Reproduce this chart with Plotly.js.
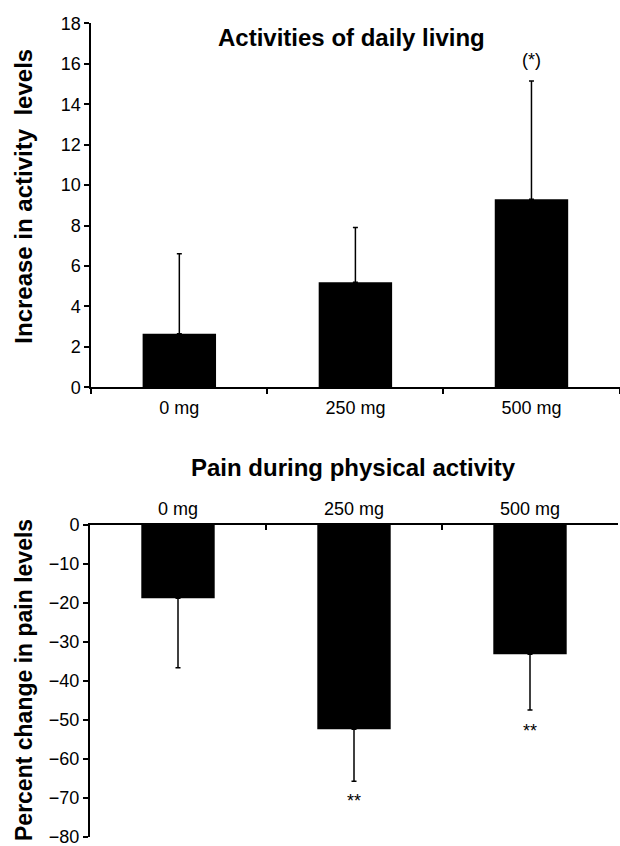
<!DOCTYPE html>
<html>
<head>
<meta charset="utf-8">
<script src="https://cdn.plot.ly/plotly-3.0.1.min.js"></script>
<style>html,body{margin:0;padding:0;background:#fff;}#chart{width:620px;height:846px;}</style>
</head>
<body>
<div id="chart"></div>
<script>
// ---- data ----
const categories = ["0 mg", "250 mg", "500 mg"];
const adlValues = [2.65, 5.2, 9.3];
const adlErrUp = [3.95, 2.7, 5.85];
const painValues = [-18.9, -52.4, -33.2];
const painErrDown = [17.8, 13.3, 14.3];
const adlMarks = ["", "", "(*)"];
const adlMarkY = [null, null, 16.2];
const painMarks = ["", "**", "**"];
const painMarkY = [null, -70.7, -52.8];

const FONT = "Liberation Sans, Arial, sans-serif";
const W = 620, H = 846;
const px = v => v / W;
const py = v => (H - v) / H;

const traces = [
  {
    type: "bar", x: categories, y: adlValues, xaxis: "x", yaxis: "y",
    width: 0.417, marker: {color: "#000"},
    error_y: {type: "data", symmetric: false, array: adlErrUp, arrayminus: [0,0,0],
              color: "#000", thickness: 1.5, width: 2.5},
    hoverinfo: "none", showlegend: false
  },
  {
    type: "bar", x: categories, y: painValues, xaxis: "x2", yaxis: "y2",
    width: 0.417, marker: {color: "#000"},
    error_y: {type: "data", symmetric: false, array: [0,0,0], arrayminus: painErrDown,
              color: "#000", thickness: 1.5, width: 2.5},
    hoverinfo: "none", showlegend: false
  }
];

const annotations = [];
annotations.push({text: "<b>Activities of daily living</b>", xref: "paper", yref: "paper",
  x: px(351.5), y: py(37), xanchor: "center", yanchor: "middle", showarrow: false,
  font: {family: FONT, size: 24, color: "#000"}});
annotations.push({text: "<b>Pain during physical activity</b>", xref: "paper", yref: "paper",
  x: px(353), y: py(467), xanchor: "center", yanchor: "middle", showarrow: false,
  font: {family: FONT, size: 24, color: "#000"}});
annotations.push({text: "<b>Increase in activity  levels</b>", xref: "paper", yref: "paper",
  x: px(24), y: py(196.7), xanchor: "center", yanchor: "middle", textangle: -90, showarrow: false,
  font: {family: FONT, size: 24, color: "#000"}});
annotations.push({text: "<b>Percent change in pain levels</b>", xref: "paper", yref: "paper",
  x: px(24), y: py(680), xanchor: "center", yanchor: "middle", textangle: -90, showarrow: false,
  font: {family: FONT, size: 23, color: "#000"}});
categories.forEach((c, i) => {
  if (adlMarks[i]) annotations.push({text: adlMarks[i], xref: "x", yref: "y", x: c, y: adlMarkY[i],
    showarrow: false, xanchor: "center", yanchor: "middle", font: {family: FONT, size: 18, color: "#000"}});
  if (painMarks[i]) annotations.push({text: painMarks[i], xref: "x2", yref: "y2", x: c, y: painMarkY[i],
    showarrow: false, xanchor: "center", yanchor: "middle", font: {family: FONT, size: 18, color: "#000"}});
});

const axisCommon = {showline: true, linecolor: "#000", linewidth: 2, showgrid: false, zeroline: false,
  tickcolor: "#000", tickwidth: 2, ticklen: 5, ticklabeloverflow: "allow",
  tickfont: {family: FONT, size: 18, color: "#000"}};

const layout = {
  width: W, height: H,
  margin: {l: 0, r: 0, t: 0, b: 0, pad: 0},
  paper_bgcolor: "#fff", plot_bgcolor: "#fff",
  font: {family: FONT, color: "#000"},
  showlegend: false,
  xaxis: Object.assign({}, axisCommon, {domain: [px(91.3), px(619.5)], anchor: "y", type: "category",
    range: [-0.5, 2.5], ticks: "outside", tickson: "boundaries", ticklabelstandoff: 3, fixedrange: true}),
  yaxis: Object.assign({}, axisCommon, {domain: [py(387.3), py(23.3)], anchor: "x", range: [0, 18],
    dtick: 2, ticks: "outside", fixedrange: true}),
  xaxis2: Object.assign({}, axisCommon, {domain: [px(90), px(618)], anchor: "y2", type: "category",
    side: "top", range: [-0.5, 2.5], ticks: "inside", tickson: "boundaries", fixedrange: true}),
  yaxis2: Object.assign({}, axisCommon, {domain: [py(837), py(524.5)], anchor: "x2", range: [-80, 0],
    dtick: 10, ticks: "outside", fixedrange: true}),
  annotations: annotations
};

Plotly.newPlot("chart", traces, layout, {displayModeBar: false, staticPlot: true});
</script>
</body>
</html>
